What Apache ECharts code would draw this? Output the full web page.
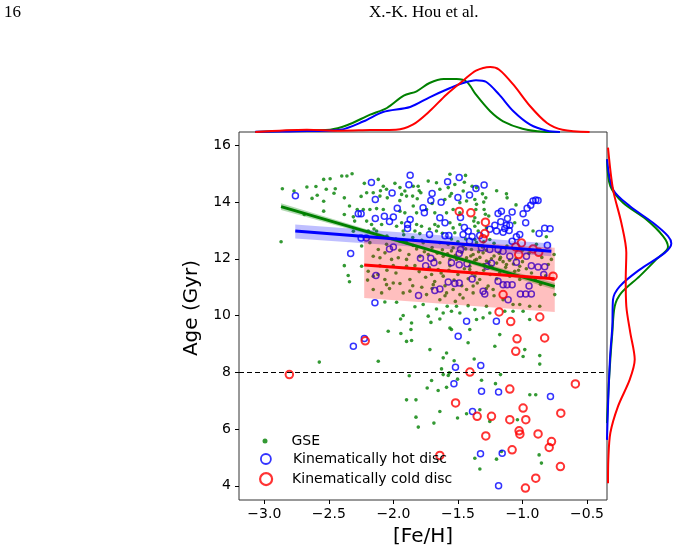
<!DOCTYPE html>
<html>
<head>
<meta charset="utf-8">
<script src="https://cdn.jsdelivr.net/npm/echarts@6/dist/echarts.min.js"></script>
<style>
  html, body { margin: 0; padding: 0; background: #fff; }
  #chart { width: 680px; height: 555px; }
</style>
</head>
<body>
<div id="chart"></div>
<script>
// [Fe/H], age (Gyr) of each star
const gseStars = [
  [-2.86,14.47],[-2.77,14.39],[-2.67,14.53],[-2.63,14.13],[-2.59,14.24],[-2.54,14.80],[-2.54,14.03],[-2.54,13.68],
  [-2.49,14.82],[-2.45,14.47],[-2.46,14.31],[-2.87,12.60],[-2.69,13.56],[-2.40,14.92],[-2.36,14.92],[-2.32,15.00],
  [-2.38,14.15],[-2.34,13.86],[-2.38,13.56],[-2.31,13.48],[-2.28,13.74],[-2.30,13.33],[-2.31,12.97],[-2.38,11.76],
  [-2.35,11.41],[-2.34,11.19],
  [-2.225,14.66],[-2.117,14.80],[-2.078,14.56],[-2.053,14.45],[-1.988,14.66],[-1.949,14.51],[-1.911,14.39],[-1.846,14.56],
  [-1.808,14.56],[-1.730,14.74],[-1.666,14.68],[-1.562,14.98],[-1.575,14.51],[-1.524,14.62],[-1.441,14.94],[-1.459,14.39],
  [-2.207,14.33],[-2.156,14.33],[-2.104,14.21],[-2.047,14.15],[-1.936,14.27],[-1.898,14.21],[-1.851,14.21],[-1.815,14.12],
  [-1.787,14.33],[-1.640,14.45],[-1.601,14.09],[-1.562,14.21],[-1.485,13.98],[-1.433,14.04],[-1.369,14.09],[-2.233,13.74],
  [-2.182,13.74],[-2.130,13.77],[-2.078,13.74],[-1.949,13.68],[-1.911,13.62],[-1.846,13.86],[-1.820,13.62],[-1.743,13.74],
  [-1.679,13.62],[-1.588,13.62],[-1.537,13.74],[-1.485,13.62],[-1.361,13.74],[-2.207,13.33],[-2.169,13.21],[-2.091,13.21],
  [-1.975,13.15],[-1.936,13.27],[-1.820,13.21],[-1.782,13.15],[-1.679,13.21],[-1.653,13.15],[-1.562,13.27],[-1.537,13.09],
  [-1.485,13.21],[-1.369,13.45],[-2.194,12.98],[-2.130,12.98],[-1.924,12.98],[-1.833,12.98],[-1.795,12.89],[-1.666,12.98],
  [-1.524,12.92],[-1.369,13.15],[-1.343,12.98],[-2.246,12.45],[-2.182,12.57],[-2.117,12.33],[-2.053,12.51],[-1.949,12.62],
  [-1.898,12.57],[-1.846,12.47],[-1.769,12.57],[-1.640,12.57],[-1.575,12.51],[-1.537,12.39],[-1.459,12.45],[-1.395,12.33],
  [-1.356,12.57],[-2.156,12.09],[-2.104,12.04],[-2.065,12.21],[-2.014,11.98],[-1.962,12.04],[-1.898,11.98],[-1.795,12.09],
  [-1.730,12.15],[-1.679,11.98],[-1.614,12.09],[-1.562,11.98],[-1.511,11.98],[-1.433,12.04],[-1.382,12.15],[-2.246,11.74],
  [-2.104,11.76],[-2.001,11.76],[-1.898,11.74],[-1.833,11.76],[-1.640,11.86],[-1.562,11.76],[-1.408,11.74],
  [-1.390,14.56],[-1.356,14.51],[-1.310,14.29],[-1.284,14.15],[-1.124,14.29],[-1.119,14.15],[-1.356,13.92],[-1.297,13.74],
  [-1.287,13.57],[-1.261,13.51],[-1.377,13.33],[-1.343,13.27],[-1.279,13.09],[-1.060,13.27],[-0.918,12.98],[-1.369,12.68],
  [-1.253,12.68],[-0.815,12.78],[-1.305,12.21],[-0.892,12.51],[-0.755,12.15],[-1.356,11.98],[-1.279,11.92],[-1.176,11.98],
  [-1.124,11.80],[-0.776,11.98],[-1.240,11.74],[-1.021,11.74],[-1.33,12.05],[-1.22,12.10],[-1.18,12.20],[-1.26,11.88],
  [-1.30,11.80],[-1.15,11.90],[-1.05,12.00],
  [-2.195,11.56],[-2.156,11.39],[-2.066,11.27],[-2.053,11.09],[-2.001,11.15],[-1.949,11.13],[-1.872,11.27],[-1.924,10.80],
  [-2.091,10.80],[-2.156,10.92],[-1.872,10.86],[-1.743,10.74],[-1.691,11.09],[-1.704,11.45],[-1.653,11.62],[-1.614,11.39],
  [-1.588,10.80],[-1.537,10.92],[-1.485,10.74],[-1.433,10.92],[-1.382,10.80],[-1.408,11.62],[-1.356,11.51],[-1.640,10.56],
  [-2.066,10.48],[-1.975,10.47],[-1.833,10.31],[-1.769,10.39],[-1.666,10.23],[-1.583,10.33],[-1.511,10.33],[-1.421,10.35],
  [-1.369,10.21],[-1.485,10.09],[-1.550,10.15],[-1.614,10.09],[-1.924,10.00],[-1.944,9.88],[-1.859,9.74],[-1.864,9.51],
  [-1.730,9.98],[-1.709,9.76],[-1.640,9.88],[-1.562,9.56],[-1.550,9.51],[-1.408,9.51],[-2.040,9.45],[-1.942,9.37],
  [-1.898,9.09],[-1.859,9.12],[-1.717,8.80],[-1.588,8.68],[-1.614,8.51],[-1.529,8.41],[-1.421,9.04],[-1.374,8.47],
  [-2.117,8.39],[-1.627,8.12],
  [-1.369,11.39],[-1.331,11.27],[-1.382,11.04],[-1.266,11.04],[-1.227,10.92],[-1.176,11.51],[-1.060,11.56],[-1.098,11.39],
  [-1.021,11.27],[-1.150,10.56],[-1.073,10.39],[-1.021,10.39],[-0.944,10.33],[-0.866,10.33],[-0.750,10.74],[-0.995,10.15],
  [-1.073,10.15],[-1.137,10.15],[-1.253,10.09],[-1.305,9.92],[-1.356,9.86],[-0.944,9.86],[-1.176,9.33],[-1.214,8.92],
  [-0.982,8.80],[-0.995,8.56],[-0.866,8.59],[-0.866,8.29],[-1.279,10.33],[-1.30,11.60],[-1.25,11.45],[-1.20,11.30],
  [-1.35,11.15],[-1.28,10.95],[-1.22,10.70],
  [-2.574,8.36],[-1.877,7.88],[-1.704,7.71],[-1.738,7.45],[-1.653,7.36],[-1.588,7.47],[-1.614,7.92],[-1.567,7.98],
  [-1.575,7.89],[-1.503,7.76],[-1.317,7.72],[-1.209,7.60],[-1.170,7.92],[-1.898,7.03],[-1.825,7.03],[-1.825,6.42],
  [-1.807,6.07],[-1.686,6.21],[-1.640,6.62],[-1.503,6.39],[-1.433,6.54],[-1.330,6.68],[-1.253,6.27],[-1.039,6.33],
  [-0.943,7.21],[-0.897,7.21],[-1.369,4.97],[-1.330,4.59],[-1.201,4.94],[-1.163,5.21],[-0.871,5.09],[-0.853,4.80],
  // dense core around the fits
  [-1.95,12.30],[-1.88,12.15],[-1.82,12.35],[-1.76,12.25],[-1.70,12.40],[-1.66,12.20],[-1.62,12.32],[-1.58,12.18],
  [-1.55,12.28],[-1.52,12.12],[-1.47,12.22],[-1.44,12.35],[-1.40,12.10],[-1.37,11.95],[-1.34,12.25],[-1.31,12.42],
  [-1.28,12.30],[-1.24,12.00],[-1.20,11.85],[-1.17,12.05],[-1.13,11.70],[-1.10,11.95],[-1.07,11.82],[-1.03,11.60],
  [-1.00,11.90],[-0.97,11.65],[-0.93,11.50],[-0.90,11.30],[-0.86,11.10],[-0.82,11.40],
  [-1.80,11.55],[-1.75,11.35],[-1.72,11.68],[-1.68,11.20],[-1.63,11.50],[-1.60,11.05],[-1.57,11.60],[-1.53,11.25],
  [-1.50,11.45],[-1.47,11.05],[-1.45,11.65],[-1.42,11.30],[-1.39,11.48],[-1.46,10.62],[-1.52,10.50],[-1.60,10.70],
  [-1.70,10.95],[-1.78,11.00],[-1.85,11.05],[-1.98,11.50],[-2.05,11.60],[-2.12,11.45],[-2.20,11.25],[-2.03,10.95],
  [-2.15,13.05],[-2.05,12.80],[-1.98,12.70],[-1.92,12.85],[-1.85,12.75],[-1.78,12.65],[-1.72,13.05],[-1.62,12.90],
  [-1.55,12.70],[-1.50,12.60],[-1.44,12.70],[-1.30,12.60],[-1.22,12.55],[-1.12,12.45],[-1.00,12.30],[-0.95,12.20],
  [-0.85,12.05],[-0.80,11.80],
  [-2.60,14.55],[-2.52,14.45],[-2.25,14.20],[-2.10,14.40],[-1.95,14.05],[-1.80,14.40],[-1.70,13.95],[-1.55,14.30],
  [-1.45,14.70],[-1.30,14.00],[-1.20,14.40],[-1.05,13.90]
];

const hotDisc = [
  [-1.87,14.95],[-2.17,14.69],[-1.58,14.72],[-1.49,14.87],[-1.88,14.61],[-2.01,14.32],[-1.70,14.30],[-1.36,14.48],
  [-2.14,14.09],[-1.71,14.06],[-1.63,13.99],[-1.50,14.16],[-1.41,14.25],[-1.97,13.78],[-1.77,13.80],[-1.76,13.62],
  [-2.07,13.50],[-2.00,13.47],[-2.14,13.42],[-1.87,13.39],[-2.03,13.32],[-1.64,13.45],[-1.60,13.27],[-1.48,13.46],
  [-1.89,13.21],[-1.89,13.07],[-1.72,12.86],[-1.45,13.10],[-1.42,12.97],[-1.39,12.79],[-1.46,12.86],[-1.57,12.82],
  [-1.60,12.81],[-1.41,12.62],[-2.03,12.35],[-2.00,12.42],[-1.79,12.02],[-1.71,12.02],[-1.75,11.76],[-1.55,11.86],
  [-1.49,11.79],[-1.43,11.83],[-1.49,12.19],[-1.48,12.33],[-2.25,13.59],[-2.25,12.73],[-2.21,12.73],
  [-1.297,14.60],[-1.163,13.68],[-1.189,13.60],[-1.080,13.65],[-0.995,13.59],[-0.964,13.78],[-0.936,13.89],[-0.918,14.04],
  [-0.897,14.07],[-0.879,14.06],[-1.116,13.42],[-1.168,13.31],[-0.975,13.27],[-1.124,13.18],[-1.098,13.18],[-1.214,13.18],
  [-1.137,13.07],[-1.253,13.04],[-1.201,12.98],[-1.150,12.94],[-1.103,13.00],[-1.021,12.86],[-1.047,12.78],[-1.080,12.62],
  [-0.871,12.89],[-0.828,13.08],[-0.786,13.06],[-0.807,12.48],[-1.331,12.82],[-1.189,12.33],[-1.150,12.27],[-1.098,12.09],
  [-0.969,12.09],[-0.931,11.76],[-0.879,11.71],[-0.828,11.72],[-1.318,12.39],[-1.253,12.33],
  [-2.135,11.41],[-2.143,10.45],[-1.805,10.71],[-1.679,10.88],[-1.640,10.94],[-1.575,11.18],[-1.524,11.13],[-1.490,11.15],
  [-1.390,11.29],[-1.686,11.86],[-1.433,9.80],[-1.498,9.27],[-2.225,9.19],[-1.519,8.18],
  [-1.240,11.84],[-1.274,11.74],[-1.047,11.88],[-0.835,11.45],[-1.305,10.86],[-1.292,10.76],[-1.189,11.21],[-1.150,11.09],
  [-1.119,11.09],[-1.080,11.09],[-0.949,11.04],[-1.016,10.76],[-0.975,10.76],[-0.931,10.76],[-1.111,10.56],[-1.202,9.80],
  [-1.323,8.24],
  [-2.310,8.92],[-1.531,7.60],[-1.317,7.33],[-1.185,7.31],[-0.783,7.15],[-1.387,6.62],[-1.325,5.13],[-1.157,5.15],
  [-1.185,4.00],[-2.759,14.22],[-2.331,12.19],[-2.272,13.59]
];

const coldDisc = [
  [-1.49,13.67],[-1.40,13.62],[-1.287,13.29],[-1.292,12.89],[-1.305,12.71],[-1.008,12.56],[-1.052,12.42],[-0.918,12.35],
  [-0.874,12.23],[-1.029,12.15],[-2.218,9.11],[-0.763,11.39],[-1.150,10.74],[-1.181,10.13],[-1.091,9.79],[-0.866,9.95],
  [-1.042,9.18],[-0.828,9.21],[-1.052,8.74],[-2.806,7.92],[-1.407,8.01],[-1.098,7.41],[-1.518,6.92],[-0.590,7.59],
  [-0.995,6.74],[-1.351,6.45],[-1.240,6.45],[-1.098,6.33],[-0.974,6.33],[-0.703,6.56],[-1.026,5.94],[-1.020,5.82],
  [-1.284,5.76],[-0.879,5.83],[-0.775,5.56],[-0.793,5.35],[-1.080,5.27],[-1.640,5.07],[-0.706,4.68],[-0.897,4.27],
  [-0.977,3.92]
];

// linear fits: end points [Fe/H, age]
const gseFit = [[-2.87, 13.84], [-0.75, 11.03]];
const hotFit = [[-2.76, 12.98], [-0.776, 12.27]];
const coldFit = [[-2.226, 11.78], [-0.75, 11.30]];

// confidence bands: [Fe/H, lower age, upper age]
const gseBand = [[-2.87, 13.72, 13.96], [-1.8, 12.36, 12.48], [-0.75, 10.91, 11.15]];
const hotBand = [[-2.76, 12.72, 13.21], [-0.776, 12.09, 12.54]];
const coldBand = [[-2.226, 10.62, 12.80], [-0.75, 10.13, 12.39]];

// marginal KDEs of [Fe/H]: [Fe/H, density]
const kdeFeGse = [[-3.07,0],[-2.80,0.033],[-2.49,0.058],[-2.36,0.168],[-2.18,0.433],[-2.05,0.6],[-1.92,0.908],
  [-1.82,1.018],[-1.72,1.225],[-1.61,1.325],[-1.51,1.325],[-1.43,1.25],[-1.36,0.933],[-1.25,0.518],[-1.15,0.268],
  [-1.0,0.083],[-0.84,0.008],[-0.71,0]];
const kdeFeHot = [[-3.07,0.008],[-2.75,0.018],[-2.41,0.058],[-2.23,0.268],[-2.08,0.5],[-1.87,0.625],[-1.72,0.868],
  [-1.56,1.1],[-1.46,1.225],[-1.36,1.293],[-1.28,1.25],[-1.18,0.933],[-1.07,0.518],[-0.94,0.183],[-0.81,0.033],[-0.71,0]];
const kdeFeCold = [[-3.07,0],[-2.67,0.058],[-2.41,0.033],[-2.18,0.05],[-1.98,0.058],[-1.85,0.183],[-1.72,0.518],
  [-1.59,0.933],[-1.46,1.283],[-1.36,1.533],[-1.25,1.625],[-1.18,1.558],[-1.07,1.183],[-0.94,0.643],[-0.81,0.225],
  [-0.69,0.058],[-0.48,0]];

// marginal KDEs of age: [age, density]
const kdeAgeGse = [[15.51,0],[14.56,0.083],[13.98,0.4],[13.39,0.983],[12.80,1.4],[12.42,1.525],[11.98,1.233],
  [11.39,0.818],[10.80,0.358],[10.33,0.193],[9.39,0.133],[8.45,0.083],[7.27,0.033],[6.21,0]];
const kdeAgeHot = [[15.51,0],[14.45,0.15],[13.86,0.568],[13.27,1.15],[12.80,1.525],[12.54,1.608],[12.21,1.443],
  [11.62,0.818],[11.03,0.318],[10.56,0.15],[9.62,0.133],[8.68,0.083],[7.74,0.05],[6.80,0.025],[5.62,0]];
const kdeAgeCold = [[15.92,0.025],[14.45,0.15],[13.27,0.358],[12.21,0.483],[11.27,0.468],[10.33,0.483],[9.39,0.583],
  [8.45,0.693],[7.74,0.568],[6.80,0.275],[5.86,0.083],[4.92,0.033],[4.09,0.025]];

const feTicks = [-3.0, -2.5, -2.0, -1.5, -1.0, -0.5];
const ageTicks = [4, 6, 8, 10, 12, 14, 16];
const ageCut = 8;

const GREEN = '#008000', BLUE = '#0000ff', RED = '#ff0000';
const FONT = 'DejaVu Sans';

function bandPolygon(band) {
  const upper = band.map(b => [b[0], b[2]]);
  const lower = band.map(b => [b[0], b[1]]).reverse();
  return upper.concat(lower);
}

function bandSeries(name, band, fill) {
  const pts = bandPolygon(band);
  return {
    name: name, type: 'custom', xAxisIndex: 0, yAxisIndex: 0, z: 3, silent: true,
    data: [[band[0][0], band[0][1]]],
    renderItem: (params, api) => ({
      type: 'polygon',
      shape: { points: pts.map(p => api.coord(p)) },
      style: { fill: fill }
    })
  };
}

function fitSeries(data, color) {
  return {
    type: 'line', xAxisIndex: 0, yAxisIndex: 0, z: 4, silent: true,
    data: data, symbol: 'none', lineStyle: { color: color, width: 3 }
  };
}

function kdeTop(data, color) {
  return {
    type: 'line', xAxisIndex: 1, yAxisIndex: 1, smooth: 0.3, symbol: 'none', silent: true,
    data: data, lineStyle: { color: color, width: 2 }
  };
}

function kdeRight(data, color) {
  return {
    type: 'line', xAxisIndex: 2, yAxisIndex: 2, smooth: 0.3, symbol: 'none', silent: true,
    data: data.map(d => [d[1], d[0]]), lineStyle: { color: color, width: 2 }
  };
}

function legendEntry(name, size, top, pad, style) {
  return {
    data: [{ name: name, icon: 'circle', itemStyle: style }],
    left: 265 - size / 2, top: top, itemWidth: size, itemHeight: 14,
    padding: 0, selectedMode: false,
    textStyle: { fontFamily: FONT, fontSize: 14, color: '#000', padding: [0, 0, 0, pad] }
  };
}

const chart = echarts.init(document.getElementById('chart'));
const feMin = -3.196, feMax = -0.345, ageMin = 3.5, ageMax = 16.47;

chart.setOption({
  animation: false,
  textStyle: { fontFamily: FONT },
  grid: [
    { left: 239, top: 132, width: 368, height: 368, show: true, borderColor: '#333', borderWidth: 1 },
    { left: 239, top: 50, width: 368, height: 82 },
    { left: 607, top: 132, width: 73, height: 368 }
  ],
  xAxis: [
    {
      gridIndex: 0, type: 'value', min: feMin, max: feMax,
      axisLine: { show: false }, splitLine: { show: false },
      axisTick: { show: true, customValues: feTicks, length: 4, lineStyle: { color: '#000' } },
      axisLabel: {
        customValues: feTicks, margin: 7, fontSize: 14, color: '#000',
        formatter: v => (v < 0 ? '\u2212' : '') + Math.abs(v).toFixed(1)
      }
    },
    { gridIndex: 1, type: 'value', min: feMin, max: feMax, show: false },
    { gridIndex: 2, type: 'value', min: 0, max: 1.825, show: false }
  ],
  yAxis: [
    {
      gridIndex: 0, type: 'value', min: ageMin, max: ageMax,
      axisLine: { show: false }, splitLine: { show: false },
      axisTick: { show: true, customValues: ageTicks, length: 4, lineStyle: { color: '#000' } },
      axisLabel: { customValues: ageTicks, margin: 8, fontSize: 14, color: '#000' }
    },
    { gridIndex: 1, type: 'value', min: 0, max: 2.05, show: false },
    { gridIndex: 2, type: 'value', min: ageMin, max: ageMax, show: false }
  ],
  legend: [
    legendEntry('GSE', 5, 434, 19, { color: GREEN }),
    legendEntry('Kinematically hot disc', 10, 452, 17, { color: 'rgba(0,0,0,0)', borderColor: BLUE, borderWidth: 1.8 }),
    legendEntry('Kinematically cold disc', 12, 472, 15, { color: 'rgba(0,0,0,0)', borderColor: RED, borderWidth: 2.2 })
  ],
  graphic: [
    { type: 'text', left: 4, top: 4, style: { text: '16', font: '17px "Liberation Serif"', fill: '#000' } },
    { type: 'text', left: 369, top: 4, style: { text: 'X.-K. Hou et al.', font: '17px "Liberation Serif"', fill: '#000' } },
    { type: 'text', x: 423, y: 537, style: { text: '[Fe/H]', font: '20px "DejaVu Sans"', fill: '#000', align: 'center', verticalAlign: 'middle' } },
    { type: 'text', x: 192, y: 308, rotation: Math.PI / 2, style: { text: 'Age (Gyr)', font: '20px "DejaVu Sans"', fill: '#000', align: 'center', verticalAlign: 'middle' } }
  ],
  series: [
    {
      name: 'GSE', type: 'scatter', xAxisIndex: 0, yAxisIndex: 0, z: 2,
      data: gseStars, symbolSize: 3.6, itemStyle: { color: GREEN },
      markLine: {
        silent: true, symbol: 'none', label: { show: false },
        lineStyle: { color: '#000', type: [5, 3], width: 1.2 },
        data: [{ yAxis: ageCut }]
      }
    },
    {
      name: 'Kinematically hot disc', type: 'scatter', xAxisIndex: 0, yAxisIndex: 0, z: 2,
      data: hotDisc, symbolSize: 6,
      itemStyle: { color: 'rgba(0,0,0,0)', borderColor: BLUE, borderWidth: 1.5 }
    },
    {
      name: 'Kinematically cold disc', type: 'scatter', xAxisIndex: 0, yAxisIndex: 0, z: 2,
      data: coldDisc, symbolSize: 7.5,
      itemStyle: { color: 'rgba(0,0,0,0)', borderColor: RED, borderWidth: 2 }
    },
    bandSeries('gseBand', gseBand, 'rgba(0,128,0,0.3)'),
    bandSeries('hotBand', hotBand, 'rgba(0,0,255,0.25)'),
    bandSeries('coldBand', coldBand, 'rgba(255,0,0,0.25)'),
    fitSeries(gseFit, GREEN),
    fitSeries(hotFit, BLUE),
    fitSeries(coldFit, RED),
    kdeTop(kdeFeGse, GREEN),
    kdeTop(kdeFeHot, BLUE),
    kdeTop(kdeFeCold, RED),
    kdeRight(kdeAgeGse, GREEN),
    kdeRight(kdeAgeHot, BLUE),
    kdeRight(kdeAgeCold, RED)
  ]
});
</script>
</body>
</html>
